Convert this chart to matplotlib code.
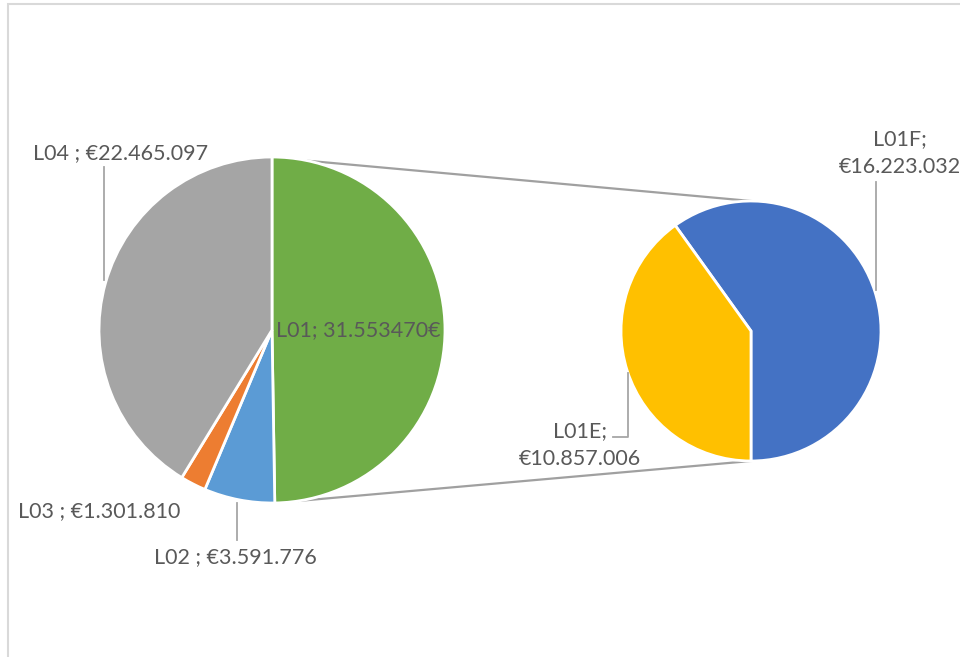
import numpy as np
import matplotlib.pyplot as plt
from matplotlib.patches import Rectangle

# main pie (L01 is shown as the sum of its two parts)
main_labels = ['L01', 'L02', 'L03', 'L04']
sub_labels = ['L01F', 'L01E']
sub_values = [16223032, 10857006]
l01_total = 31553470
main_values = [sum(sub_values), 3591776, 1301810, 22465097]

main_colors = ['#70AD47', '#5B9BD5', '#ED7D31', '#A5A5A5']
sub_colors = ['#4472C4', '#FFC000']

txt = '#595959'
line_c = '#A6A6A6'
plt.rcParams['font.family'] = ['Lato', 'DejaVu Sans']

def eur(v):
    return '€' + f'{v:,}'.replace(',', '.')

fig = plt.figure(figsize=(9.6, 6.57), dpi=100)
ax = fig.add_axes([0, 0, 1, 1])

H = 657
c1, r1 = (272, H - 330), 173
c2, r2 = (751, H - 331), 130

wp = dict(edgecolor='white', linewidth=2)
ax.pie(main_values, colors=main_colors, startangle=90, counterclock=False,
       center=c1, radius=r1, wedgeprops=wp)
ax.pie(sub_values, colors=sub_colors, startangle=-90, counterclock=True,
       center=c2, radius=r2, wedgeprops=wp)

# connector lines between the two pies
for a1, a2 in [(78, 90), (-81, -90)]:
    p1 = (c1[0] + r1 * np.cos(np.radians(a1)), c1[1] + r1 * np.sin(np.radians(a1)))
    p2 = (c2[0] + r2 * np.cos(np.radians(a2)), c2[1] + r2 * np.sin(np.radians(a2)))
    ax.plot([p1[0], p2[0]], [p1[1], p2[1]], color='#A0A0A0', lw=1.6, zorder=0)

fs = 15.5
ax.text(33, H - 153, f'{main_labels[3]} ; {eur(main_values[3])}', fontsize=fs, color=txt, va='center')
ax.plot([104, 104], [H - 167, H - 280], color=line_c, lw=1.3)

ax.text(358, H - 330, f'{main_labels[0]}; ' + f'{l01_total/1e6:.6f}€', fontsize=fs, color=txt,
        va='center', ha='center')

ax.text(18, H - 511, f'{main_labels[2]} ; {eur(main_values[2])}', fontsize=fs, color=txt, va='center')

ax.text(154, H - 557, f'{main_labels[1]} ; {eur(main_values[1])}', fontsize=fs, color=txt, va='center')
ax.plot([237, 237], [H - 503, H - 540], color=line_c, lw=1.3)

ax.text(580, H - 445, f'{sub_labels[1]};\n{eur(sub_values[1])}', fontsize=fs, color=txt,
        va='center', ha='center', linespacing=1.5)
ax.plot([628, 628, 613], [H - 373, H - 437, H - 437], color=line_c, lw=1.3)

ax.text(900, H - 153, f'{sub_labels[0]};\n{eur(sub_values[0])}', fontsize=fs, color=txt,
        va='center', ha='center', linespacing=1.5)
ax.plot([876, 876], [H - 182, H - 290], color=line_c, lw=1.3)

ax.set_xlim(0, 960)
ax.set_ylim(0, H)
ax.set_aspect('equal')
ax.axis('off')

# chart frame (cut off at right and bottom)
fig.patches.append(Rectangle((8, -10), 1000, H - 4 + 10, transform=None, fill=False,
                             edgecolor='#D9D9D9', lw=1.5))

fig.savefig('out.png', dpi=100)
